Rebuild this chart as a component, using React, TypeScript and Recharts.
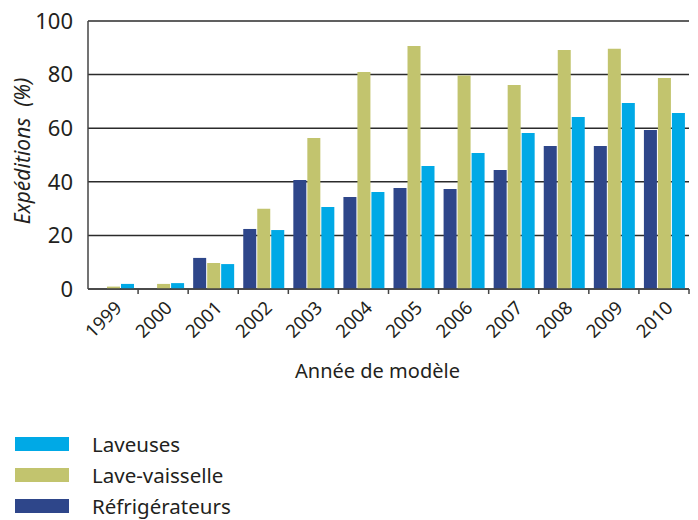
import { Bar, BarChart, CartesianGrid, XAxis, YAxis } from 'recharts';

const years = ['1999', '2000', '2001', '2002', '2003', '2004', '2005', '2006', '2007', '2008', '2009', '2010'];
const refrigerateurs = [0, 0, 11.6, 22.4, 40.7, 34.3, 37.7, 37.3, 44.4, 53.4, 53.4, 59.3];
const laveVaisselle = [0.9, 1.9, 9.7, 29.9, 56.3, 81.0, 90.7, 79.7, 76.1, 89.2, 89.6, 78.7];
const laveuses = [1.9, 2.2, 9.3, 22.0, 30.6, 36.2, 45.9, 50.7, 58.2, 64.2, 69.4, 65.7];
const yTicks = [0, 20, 40, 60, 80, 100];

const series = [
  { key: 'refrigerateurs', name: 'Réfrigérateurs', color: '#2e468a' },
  { key: 'laveVaisselle', name: 'Lave-vaisselle', color: '#c2c46e' },
  { key: 'laveuses', name: 'Laveuses', color: '#00a9e6' },
];

const data = years.map((year, i) => ({
  year,
  refrigerateurs: refrigerateurs[i],
  laveVaisselle: laveVaisselle[i],
  laveuses: laveuses[i],
}));

const FONT = '"Noto Sans", sans-serif';
const INK = '#231f20';

function YearTick({ x, y, payload }: any) {
  const half = payload?.offset ?? 25;
  const tx = x + 10;
  const ty = y + 20;
  return (
    <g>
      <line x1={x + half} y1={y} x2={x + half} y2={y + 5} stroke="#444" strokeWidth={1.5} />
      <text
        x={tx}
        y={ty}
        textAnchor="end"
        transform={`rotate(-45, ${tx}, ${ty})`}
        fontSize={18.5}
        fontFamily={FONT}
        fill={INK}
      >
        {payload.value}
      </text>
    </g>
  );
}

function YLabel() {
  return (
    <text
      x={30}
      y={151}
      textAnchor="middle"
      transform="rotate(-90, 30, 151)"
      fontSize={21}
      fontStyle="italic"
      fontFamily={FONT}
      fill={INK}
      style={{ whiteSpace: 'pre' }}
    >
      {'Expéditions\u00a0\u00a0(%)'}
    </text>
  );
}

function XLabel({ viewBox }: any) {
  const cx = viewBox.x + viewBox.width / 2 - 11;
  return (
    <text x={cx} y={viewBox.y + 89} textAnchor="middle" fontSize={20} fontFamily={FONT} fill={INK}>
      Année de modèle
    </text>
  );
}

function LegendBox() {
  const items = [...series].reverse();
  return (
    <div style={{ position: 'absolute', left: 15, top: 428, fontFamily: FONT }}>
      {items.map((s) => (
        <div key={s.key} style={{ display: 'flex', alignItems: 'center', height: 31 }}>
          <span style={{ display: 'inline-block', width: 54, height: 14, background: s.color, marginRight: 23 }} />
          <span style={{ fontSize: 20.5, color: INK }}>{s.name}</span>
        </div>
      ))}
    </div>
  );
}

export default function App() {
  return (
    <div style={{ position: 'absolute', left: 0, top: 0, width: 698, height: 520, background: '#fff' }}>
      <BarChart
        width={698}
        height={520}
        data={data}
        margin={{ top: 21, right: 9, left: 0, bottom: 0 }}
        barCategoryGap={5}
        barGap={1}
      >
        <CartesianGrid horizontal vertical={false} stroke="#2b2b2b" strokeWidth={1.5} />
        <XAxis
          dataKey="year"
          tickLine={false}
          tickSize={0}
          tickMargin={0}
          axisLine={{ stroke: '#444', strokeWidth: 1.5 }}
          tick={<YearTick />}
          interval={0}
          height={231}
          label={<XLabel />}
        />
        <YAxis
          domain={[0, 100]}
          ticks={yTicks}
          width={88}
          tickLine={false}
          tickMargin={9}
          axisLine={{ stroke: '#444', strokeWidth: 1.5 }}
          tick={{ fontSize: 22, fontFamily: FONT, fill: INK }}
          label={<YLabel />}
        />
        {series.map((s) => (
          <Bar key={s.key} dataKey={s.key} name={s.name} fill={s.color} isAnimationActive={false} />
        ))}
      </BarChart>
      <LegendBox />
    </div>
  );
}
